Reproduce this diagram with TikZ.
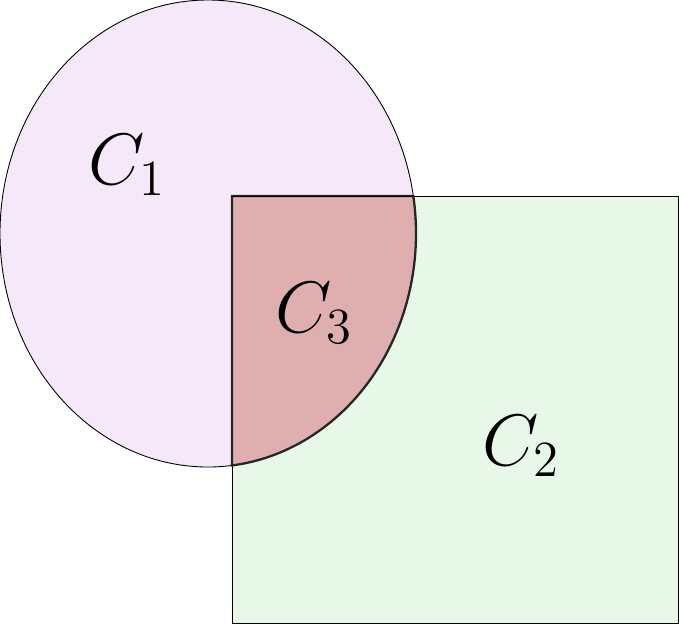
\documentclass[tikz,border=0pt]{standalone}
\usepackage{tikz}
\definecolor{fillSetA}{HTML}{F5E8F8}
\definecolor{fillSetB}{HTML}{E8F8E8}
\definecolor{fillMeet}{HTML}{DFAFAF}

\begin{document}
\begin{tikzpicture}[x=0.01cm,y=-0.01cm,
  region/.style={draw=black,line width=0.25pt},
  meet/.style={draw=black!85,fill=fillMeet,line width=0.65pt},
  setlbl/.style={font=\fontsize{22.4}{26}\selectfont,inner sep=0pt}]
  \useasboundingbox (0,0) rectangle (679,624);
  % the two sets
  \draw[region,fill=fillSetA] (208,233.5) ellipse [x radius=208,y radius=233.5];
  \draw[region,fill=fillSetB] (232,196) rectangle (678.5,623.5);
  % their intersection
  \draw[meet] (232,196) -- (413.3,196)
    arc [start angle=-9.24,end angle=83.37,x radius=208,y radius=233.5] -- cycle;
  \draw[region] (232,196) -- (413.3,196);
  % labels
  \node[setlbl] (c1) at (127,165) {$C_1$};
  \node[setlbl] (c3) at (314,313) {$C_3$};
  \node[setlbl] (c2) at (521,446) {$C_2$};
\end{tikzpicture}
\end{document}
